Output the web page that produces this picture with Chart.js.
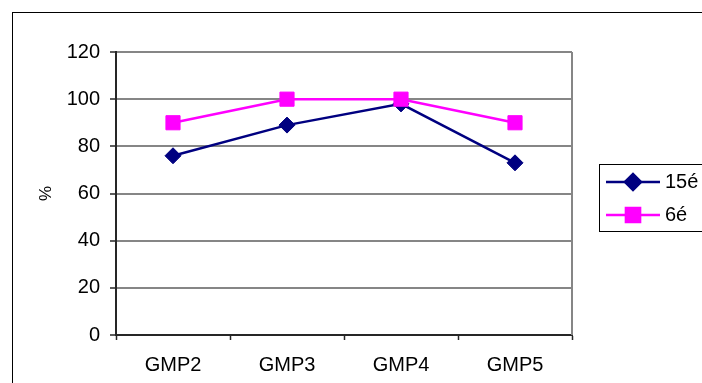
<!DOCTYPE html>
<html>
<head>
<meta charset="utf-8">
<script src="https://cdn.jsdelivr.net/npm/chart.js@4/dist/chart.umd.min.js"></script>
<style>
  html, body { margin: 0; padding: 0; background: #fff; }
  #wrap { width: 702px; height: 383px; position: relative; }
</style>
</head>
<body>
<div id="wrap"><canvas id="c" width="702" height="383"></canvas></div>
<script>
// Categories and series
const categories = ['GMP2', 'GMP3', 'GMP4', 'GMP5'];
const series15 = [76, 89, 98, 73];
const series6 = [90, 100, 100, 90];
const seriesNames = ['15é', '6é'];
const yTicks = [0, 20, 40, 60, 80, 100, 120];

const NAVY = '#000080';
const MAGENTA = '#FF00FF';
const GRID = '#868686';
const AXIS = '#262626';

Chart.defaults.font.family = '"Liberation Sans", Arial, sans-serif';
Chart.defaults.color = '#000';

// Outer frame, plot-area right border and boxed legend
const decorations = {
  id: 'decorations',
  beforeDraw(chart) {
    const ctx = chart.ctx;
    ctx.save();
    ctx.fillStyle = '#fff';
    ctx.fillRect(0, 0, chart.width, chart.height);
    ctx.strokeStyle = '#000';
    ctx.lineWidth = 1;
    ctx.strokeRect(12.5, 12.5, 900, 900);
    ctx.restore();
  },
  afterDatasetsDraw(chart) {
    const ctx = chart.ctx;
    const a = chart.chartArea;
    ctx.save();
    ctx.strokeStyle = GRID;
    ctx.lineWidth = 2;
    ctx.beginPath();
    ctx.moveTo(a.right, a.top);
    ctx.lineTo(a.right, a.bottom);
    ctx.stroke();

    // legend box
    ctx.strokeStyle = '#000';
    ctx.lineWidth = 1;
    ctx.strokeRect(599.5, 164.5, 200, 67);

    const rows = [
      { ds: chart.data.datasets.find(d => d.label === seriesNames[0]), y: 182 },
      { ds: chart.data.datasets.find(d => d.label === seriesNames[1]), y: 215 }
    ];
    rows.forEach(r => {
      ctx.strokeStyle = r.ds.borderColor;
      ctx.lineWidth = r.ds.borderWidth;
      ctx.beginPath();
      ctx.moveTo(606, r.y);
      ctx.lineTo(660, r.y);
      ctx.stroke();
      ctx.fillStyle = r.ds.pointBackgroundColor;
      ctx.strokeStyle = r.ds.pointBorderColor;
      Chart.helpers.drawPoint(ctx, {
        pointStyle: r.ds.pointStyle,
        radius: r.ds.pointRadius,
        rotation: 0,
        borderWidth: r.ds.pointBorderWidth
      }, 633, r.y);
      ctx.fillStyle = '#000';
      ctx.font = '20px "Liberation Sans", Arial, sans-serif';
      ctx.textBaseline = 'middle';
      ctx.textAlign = 'left';
      ctx.fillText(r.ds.label, 665, r.y);
    });
    ctx.restore();
  }
};

new Chart(document.getElementById('c'), {
  type: 'line',
  data: {
    labels: categories,
    datasets: [
      {
        label: seriesNames[0],
        data: series15,
        order: 1,
        borderColor: NAVY,
        backgroundColor: NAVY,
        borderWidth: 2.5,
        tension: 0,
        pointStyle: 'rectRot',
        pointRadius: 8,
        pointHoverRadius: 8,
        pointBackgroundColor: NAVY,
        pointBorderColor: NAVY,
        pointBorderWidth: 1
      },
      {
        label: seriesNames[1],
        data: series6,
        order: 0,
        borderColor: MAGENTA,
        backgroundColor: MAGENTA,
        borderWidth: 2.5,
        tension: 0,
        pointStyle: 'rect',
        pointRadius: 10,
        pointHoverRadius: 10,
        pointBackgroundColor: MAGENTA,
        pointBorderColor: MAGENTA,
        pointBorderWidth: 1
      }
    ]
  },
  options: {
    responsive: false,
    animation: false,
    events: [],
    layout: { padding: { left: 0, top: 52, right: 130, bottom: 0 } },
    plugins: {
      legend: { display: false },
      title: { display: false },
      tooltip: { enabled: false }
    },
    scales: {
      x: {
        offset: true,
        grid: {
          offset: true,
          drawOnChartArea: false,
          tickLength: 5,
          tickColor: AXIS,
          tickWidth: 1.5
        },
        border: { color: AXIS, width: 2 },
        ticks: {
          font: { size: 20 },
          color: '#000',
          padding: 13,
          maxRotation: 0
        },
        afterFit(scale) { scale.height = 48; }
      },
      y: {
        min: 0,
        max: 120,
        afterBuildTicks(scale) { scale.ticks = yTicks.map(v => ({ value: v })); },
        grid: {
          color: ctx => (ctx.tick && ctx.tick.value === 0) ? 'rgba(0,0,0,0)' : GRID,
          lineWidth: 2,
          tickLength: 6,
          tickColor: AXIS,
          tickWidth: 1.5
        },
        border: { color: AXIS, width: 2 },
        ticks: {
          font: { size: 20 },
          color: '#000',
          padding: 10
        },
        title: {
          display: true,
          text: '%',
          font: { size: 17 },
          color: '#000',
          padding: { top: 36, bottom: 0 }
        },
        afterFit(scale) { scale.width = 116; }
      }
    }
  },
  plugins: [decorations]
});
</script>
</body>
</html>
